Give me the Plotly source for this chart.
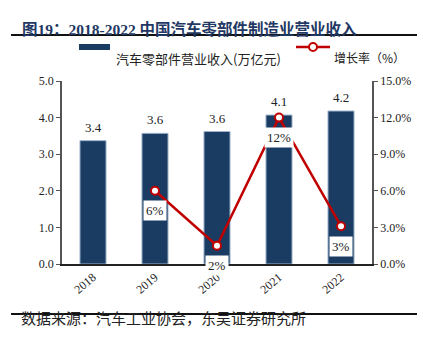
import plotly.graph_objects as go

years = ["2018", "2019", "2020", "2021", "2022"]
revenue = [3.37, 3.57, 3.62, 4.07, 4.18]
growth_years = ["2019", "2020", "2021", "2022"]
growth = [6.0, 1.5, 12.0, 3.1]
growth_labels = ["6%", "2%", "12%", "3%"]

title_text = "图19：2018-2022 中国汽车零部件制造业营业收入"
source_text = "数据来源：汽车工业协会，东吴证券研究所"
bar_name = "汽车零部件营业收入(万亿元)"
line_name = "增长率（%）"

SERIF = "Times New Roman, Liberation Serif, Noto Sans CJK SC"
BAR = "#1A3B62"
RED = "#C00000"

def px(x):
    return (x - 62) / 310

def py(y):
    return (264 - y) / 183

fig = go.Figure()
fig.add_trace(go.Bar(
    x=years, y=revenue, width=0.42,
    marker=dict(color=BAR, line=dict(color="#9FB4CC", width=1)),
    showlegend=False, yaxis="y",
))
for i, v in enumerate(revenue):
    fig.add_annotation(x=i, y=v, xref="x", yref="y", text=f"{v:.1f}", showarrow=False,
                       yanchor="bottom", yshift=4,
                       font=dict(family=SERIF, size=13, color="#222"))
fig.add_trace(go.Scatter(
    x=growth_years, y=growth, mode="lines+markers",
    line=dict(color=RED, width=2.5),
    marker=dict(size=8, color="white", line=dict(color=RED, width=2)),
    showlegend=False, yaxis="y2", cliponaxis=False,
))

for xv, yv, lab in zip(growth_years, growth, growth_labels):
    fig.add_annotation(x=years.index(xv), y=yv, xref="x", yref="y2", text=lab, showarrow=False,
                       yshift=-20, bgcolor="white", borderpad=2,
                       font=dict(family=SERIF, size=13, color="#222"))

# custom legend
fig.add_shape(type="rect", xref="paper", yref="paper", x0=px(79), x1=px(110),
              y0=py(50), y1=py(44), fillcolor=BAR, line=dict(width=0))
fig.add_annotation(xref="paper", yref="paper", x=px(114), y=py(47), xanchor="left",
                   text=bar_name, showarrow=False,
                   font=dict(family="Noto Sans CJK SC", size=13, color="#222"))
fig.add_shape(type="line", xref="paper", yref="paper", x0=px(296), x1=px(330),
              y0=py(47), y1=py(47), line=dict(color=RED, width=2.5))
fig.add_shape(type="circle", xref="paper", yref="paper", xsizemode="pixel", ysizemode="pixel",
              xanchor=px(313), yanchor=py(47), x0=-4, x1=4, y0=-4, y1=4,
              fillcolor="white", line=dict(color=RED, width=2))
fig.add_annotation(xref="paper", yref="paper", x=px(332), y=py(47), xanchor="left",
                   text=line_name, showarrow=False,
                   font=dict(family="Noto Sans CJK SC", size=12, color="#222"))

# title and source
fig.add_annotation(xref="paper", yref="paper", x=px(20), y=py(18), xanchor="left",
                   text=f"<b>{title_text}</b>", showarrow=False,
                   font=dict(family=SERIF, size=15.5, color="#1F3864"))
fig.add_shape(type="line", xref="paper", yref="paper", x0=px(11), x1=px(417),
              y0=py(35), y1=py(35), line=dict(color="#111", width=2))
fig.add_shape(type="line", xref="paper", yref="paper", x0=px(11), x1=px(417),
              y0=py(314), y1=py(314), line=dict(color="#111", width=2))
fig.add_annotation(xref="paper", yref="paper", x=px(19), y=py(330), xanchor="left",
                   text=source_text, showarrow=False,
                   font=dict(family="Noto Sans CJK SC", size=15, color="#222"))

fig.update_layout(
    width=423, height=347, margin=dict(l=62, r=51, t=81, b=83),
    paper_bgcolor="white", plot_bgcolor="white",
    xaxis=dict(type="category", categoryarray=years, categoryorder="array",
               range=[-0.5, len(years) - 0.5],
               showline=True, linecolor="#222", linewidth=1.5,
               ticks="", tickangle=-40, tickfont=dict(family=SERIF, size=12, color="#222"),
               showgrid=False),
    yaxis=dict(range=[0, 5], dtick=1, tickformat=".1f", showline=True, linecolor="#555",
               linewidth=1.5, ticks="outside", ticklen=4, tickcolor="#555", showgrid=False,
               zeroline=False, tickfont=dict(family=SERIF, size=12, color="#222")),
    yaxis2=dict(range=[0, 15], dtick=3, tickformat=".1f", ticksuffix="%", overlaying="y",
                side="right", showline=True, linecolor="#555", linewidth=1.5,
                ticks="outside", ticklen=4, tickcolor="#555", showgrid=False, zeroline=False,
                tickfont=dict(family=SERIF, size=12, color="#222")),
    bargap=0.5,
)

fig.write_html("out.html")
